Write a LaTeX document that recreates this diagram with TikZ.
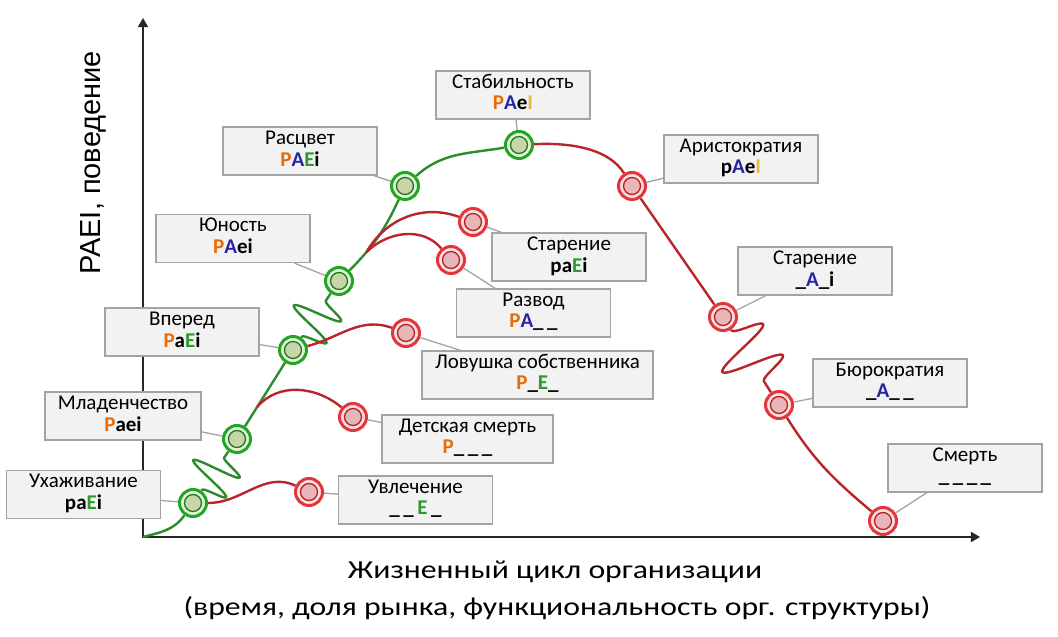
\documentclass[tikz,border=0pt]{standalone}
\usepackage{fontspec}
\setmainfont{Carlito}
\newfontfamily\arialfont{Liberation Sans}
\usepackage{tikz}
\usetikzlibrary{arrows, calc, decorations.pathmorphing}
\usepackage{xcolor}

\definecolor{porange}{HTML}{E46C0A}
\definecolor{ablue}{HTML}{2424A6}
\definecolor{egreen}{HTML}{2E9A2E}
\definecolor{igold}{HTML}{E0BC48}
\definecolor{lgreen}{HTML}{2C8C2C}
\definecolor{lred}{HTML}{B8262C}
\definecolor{boxfill}{HTML}{F2F2F2}
\definecolor{boxline}{HTML}{A3A3A3}
\definecolor{gring}{HTML}{22A622}
\definecolor{gpale}{HTML}{E6F2DE}
\definecolor{gdark}{HTML}{1B7A1B}
\definecolor{gcore}{HTML}{C6D6A8}
\definecolor{rring}{HTML}{E4353B}
\definecolor{rpale}{HTML}{FBE2E2}
\definecolor{rdark}{HTML}{B81E24}
\definecolor{rcore}{HTML}{E8B6B8}

\newcommand{\cP}{\textcolor{porange}{P}}
\newcommand{\cA}{\textcolor{ablue}{A}}
\newcommand{\cE}{\textcolor{egreen}{E}}
\newcommand{\cI}{\textcolor{igold}{I}}

\begin{document}
\begin{tikzpicture}[x=1pt, y=1pt,
	box/.style={draw=boxline, line width=1.3pt, fill=boxfill, minimum width=154pt, minimum height=48pt, inner sep=0pt, align=center, font=\fontsize{21}{21}\selectfont},
	gdot/.style={circle, draw=gring, line width=3pt, fill=gpale, minimum size=27pt, inner sep=0pt, path picture={\draw[gdark, line width=1.3pt, fill=gcore] (path picture bounding box.center) circle (8.5pt);}},
	rdot/.style={circle, draw=rring, line width=3pt, fill=rpale, minimum size=27pt, inner sep=0pt, path picture={\draw[rdark, line width=1.3pt, fill=rcore] (path picture bounding box.center) circle (8.5pt);}},
	gline/.style={lgreen, line width=2.4pt},
	rline/.style={lred, line width=2.4pt},
	conn/.style={boxline, line width=1.3pt},
	axtext/.style={anchor=base, font=\fontsize{26}{30}\selectfont},
	wiggle/.style 2 args={decorate, decoration={snake, amplitude=#1, segment length=#2, pre length=1pt, post length=1pt}}]
	\useasboundingbox (0,0) rectangle (1058,637);
	\coordinate (O) at (143,100);
	\coordinate (Yt) at (143,619);
	\coordinate (Xr) at (980,100);
	\draw [line width=1.5pt, black!85, triangle 60-triangle 60] (Yt) -- (O) -- (Xr);
	\node[rotate=90, font=\arialfont\fontsize{29}{30}\selectfont] (YL) at (93,474) {PAEI, поведение};
	\node[axtext] (L1) at (555,58) {\scalebox{1.22}[1]{Жизненный цикл организации}};
	\node[axtext] (L2) at (557,21) {\scalebox{1.22}[1]{(время, доля рынка, функциональность орг. структуры)}};

	\node[box] (T1) at (83.5,142.5) {\strut Ухаживание\\\strut\textbf{pa\cE i}};
	\node[box, minimum width=156pt] (T2) at (123,221) {\strut Младенчество\\\strut\textbf{\cP aei}};
	\node[box] (T3) at (182,305) {\strut Вперед\\\strut\textbf{\cP a\cE i}};
	\node[box] (T4) at (233,398.5) {\strut Юность\\\strut\textbf{\cP\cA ei}};
	\node[box] (T5) at (300,486) {\strut Расцвет\\\strut\textbf{\cP\cA\cE i}};
	\node[box] (T6) at (513,542) {\strut Стабильность\\\strut\textbf{\cP\cA e\cI}};
	\node[box] (T7) at (741,478) {\strut Аристократия\\\strut\textbf{p\cA e\cI}};
	\node[box] (T8) at (569,380) {\strut Старение\\\strut\textbf{pa\cE i}};
	\node[box] (T9) at (533.5,324) {\strut Развод\\\strut\textbf{\cP\cA\_\,\_}};
	\node[box, minimum width=231pt] (T10) at (537.5,262) {\strut Ловушка собственника\\\strut\textbf{\cP\_\cE\_}};
	\node[box, minimum width=171pt] (T11) at (467.5,198) {\strut Детская смерть\\\strut\textbf{\cP\_\,\_\,\_}};
	\node[box] (T12) at (415.5,137) {\strut Увлечение\\\strut\textbf{\_\,\_\,\cE\,\_}};
	\node[box] (T13) at (815,366) {\strut Старение\\\strut\textbf{\_\cA\_i}};
	\node[box] (T14) at (890,254) {\strut Бюрократия\\\strut\textbf{\_\cA\_\,\_}};
	\node[box] (T15) at (965,169) {\strut Смерть\\\strut\textbf{\_\,\_\,\_\,\_}};

	\node[gdot] (G1) at (193,134) {};
	\node[gdot] (G2) at (237,198) {};
	\node[gdot] (G3) at (293,287) {};
	\node[gdot] (G4) at (339,356) {};
	\node[gdot] (G5) at (405,451) {};
	\node[gdot] (G6) at (519,492) {};
	\node[rdot] (R1) at (309,145) {};
	\node[rdot] (R2) at (353,220) {};
	\node[rdot] (R3) at (406,304) {};
	\node[rdot] (R4) at (451,377) {};
	\node[rdot] (R5) at (473,415) {};
	\node[rdot] (R6) at (632,451) {};
	\node[rdot] (R7) at (723,320) {};
	\node[rdot] (R8) at (779,232) {};
	\node[rdot] (R9) at (883,116) {};

	\draw[gline] (O) to[out=15, in=235] (G1);
	\draw[gline, wiggle={24pt}{24pt}, decoration={mirror}] (G1) -- (G2);
	\draw[gline] (G2) -- coordinate[pos=.3] (J1) (G3);
	\draw[gline, wiggle={24pt}{26.5pt}, decoration={mirror}] (G3) -- (G4);
	\draw[gline] (G4) to[bend right=10] coordinate[pos=.27] (J2) (G5);
	\draw[gline] (G5) to[out=42, in=190] (G6);
	\draw[rline] (G6) to[out=3, in=122, looseness=.85] (R6);
	\draw[rline] (R6) -- (R7);
	\draw[rline, wiggle={30pt}{37pt}] (R7) -- (R8);
	\draw[rline] (R8) to[out=-58, in=140] (R9);
	\draw[rline] (G1) to[out=0, in=155] (R1);
	\draw[rline] (J1) to[out=50, in=140] (R2);
	\draw[rline] (G3) to[out=15, in=160] (R3);
	\draw[rline] (J2) to[out=45, in=130] (R4);
	\draw[rline] (J2) to[out=60, in=160] (R5);

	\draw[conn] (T1) -- (G1);
	\draw[conn] (T2) -- (G2);
	\draw[conn] (T3) -- (G3);
	\draw[conn] (T4) -- (G4);
	\draw[conn] (T5) -- (G5);
	\draw[conn] (T6) -- (G6);
	\draw[conn] (T7) -- (R6);
	\draw[conn] (T8) -- (R5);
	\draw[conn] (T9) -- (R4);
	\draw[conn] (T10) -- (R3);
	\draw[conn] (T11) -- (R2);
	\draw[conn] (T12) -- (R1);
	\draw[conn] (T13) -- (R7);
	\draw[conn] (T14) -- (R8);
	\draw[conn] (T15) -- (R9);
\end{tikzpicture}
\end{document}
